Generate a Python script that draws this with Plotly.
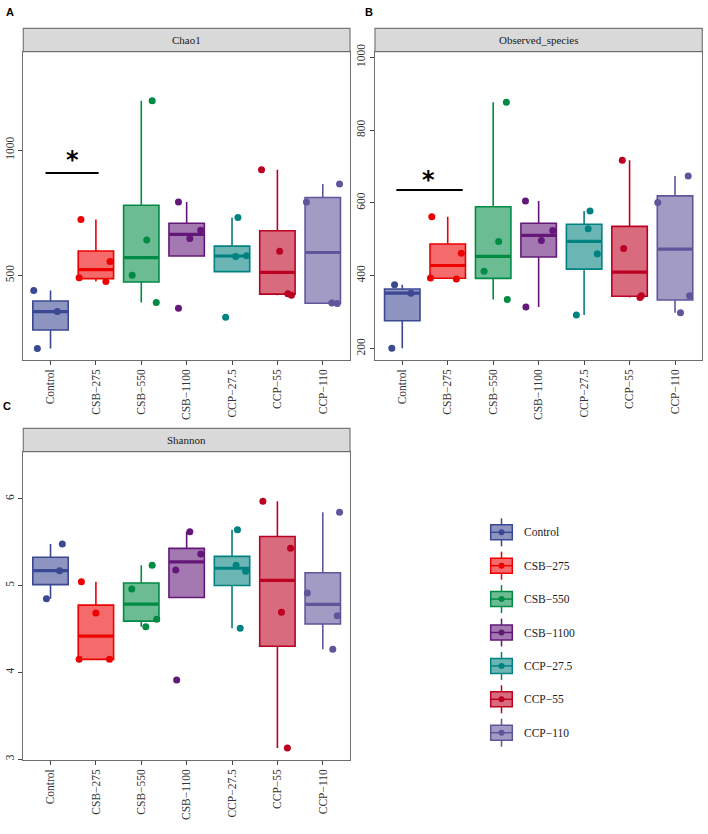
import numpy as np
import plotly.graph_objects as go

# DATA
groups = ["Control", "CSB\u2212275", "CSB\u2212550", "CSB\u22121100",
          "CCP\u221227.5", "CCP\u221255", "CCP\u2212110"]

chao1 = [[209, 356, 440], [476, 491, 556, 723], [392, 501, 641, 1196],
         [369, 647, 680, 793], [333, 576, 579, 731], [421, 427, 597, 921],
         [388, 390, 793, 865]]
observed = [[201, 352, 375], [391, 394, 462, 562], [335, 412, 494, 876],
            [314, 497, 524, 605], [292, 460, 529, 578], [340, 345, 475, 717],
            [298, 345, 601, 674]]
shannon = [[4.85, 5.173, 5.481], [4.15, 4.15, 4.685, 5.046], [4.527, 4.612, 4.962, 5.235],
           [3.912, 5.181, 5.366, 5.623], [4.51, 5.166, 5.235, 5.646],
           [3.128, 4.693, 5.431, 5.973], [4.266, 4.654, 4.916, 5.847]]

# horizontal jitter of each point (fraction of a category step)
chao1_jit = [[-0.29, 0.15, -0.37], [0.22, -0.37, 0.31, -0.33], [0.33, -0.20, 0.12, 0.24],
             [-0.18, 0.07, 0.31, -0.18], [-0.14, 0.08, 0.32, 0.13], [0.31, 0.23, 0.05, -0.35],
             [0.32, 0.20, -0.36, 0.37]]
observed_jit = [[-0.23, 0.19, -0.17], [0.19, -0.38, 0.30, -0.35], [0.31, -0.20, 0.12, 0.29],
                [-0.28, 0.06, 0.31, -0.29], [-0.17, 0.29, 0.09, 0.13], [0.23, 0.26, -0.13, -0.16],
                [0.12, 0.32, -0.38, 0.29]]
shannon_jit = [[-0.09, 0.20, 0.26], [-0.37, 0.30, 0.0, -0.32], [0.10, 0.34, -0.21, 0.24],
               [-0.22, -0.24, 0.31, 0.07], [0.18, 0.30, 0.09, 0.12], [0.22, 0.09, 0.29, -0.32],
               [0.22, 0.32, -0.34, 0.37]]

colors = ["#3B4992", "#EE0000", "#008B45", "#631879", "#008280", "#BB0021", "#5F559B"]

W, H = 708, 834
SERIF = "Liberation Serif, Times New Roman, serif"
BOXW = 0.78


def fx(p):
    return p / W


def fy(p):
    return 1 - p / H


def rgba(hexc, a):
    h = hexc.lstrip("#")
    return f"rgba({int(h[0:2],16)},{int(h[2:4],16)},{int(h[4:6],16)},{a})"


def box_stats(v):
    # ggplot-style: type 7 quantiles, whiskers to last point within 1.5 IQR
    v = np.array(v, dtype=float)
    q1, med, q3 = np.percentile(v, [25, 50, 75])
    iqr = q3 - q1
    lo = v[v >= q1 - 1.5 * iqr].min()
    hi = v[v <= q3 + 1.5 * iqr].max()
    return q1, med, q3, min(lo, q1), max(hi, q3)


fig = go.Figure()


def add_panel(values, jitter, n):
    xa = "x" if n == 1 else f"x{n}"
    ya = "y" if n == 1 else f"y{n}"
    for i, (vals, jit) in enumerate(zip(values, jitter)):
        q1, med, q3, lo, hi = box_stats(vals)
        c = colors[i]
        fig.add_trace(go.Box(x=[i], q1=[q1], median=[med], q3=[q3],
                             lowerfence=[lo], upperfence=[hi],
                             width=BOXW, whiskerwidth=0, boxpoints=False,
                             fillcolor=rgba(c, 0.58), line=dict(color=c, width=1.6),
                             xaxis=xa, yaxis=ya, showlegend=False, hoverinfo="skip"))
        # thicker median bar
        fig.add_trace(go.Scatter(x=[i - BOXW / 2 + 0.01, i + BOXW / 2 - 0.01], y=[med, med],
                                 mode="lines", line=dict(color=c, width=3.2),
                                 xaxis=xa, yaxis=ya, showlegend=False, hoverinfo="skip"))
        fig.add_trace(go.Scatter(x=[i + j for j in jit], y=vals, mode="markers",
                                 marker=dict(color=c, size=7),
                                 xaxis=xa, yaxis=ya, showlegend=False))


add_panel(chao1, chao1_jit, 1)
add_panel(observed, observed_jit, 2)
add_panel(shannon, shannon_jit, 3)

axis_common = dict(showline=True, mirror=True, linecolor="#6E6E6E", linewidth=1.2,
                   ticks="outside", ticklen=4, tickcolor="#444", tickwidth=1,
                   showgrid=False, zeroline=False, automargin=False,
                   tickfont=dict(family=SERIF, size=11.5, color="#333"))

xdomA = [fx(23.3), fx(350)]
xdomB = [fx(375), fx(702.3)]
ydomTop = [fy(359.5), fy(51.7)]
ydomC = [fy(759.5), fy(451.7)]

for k, (xd, yd) in enumerate([(xdomA, ydomTop), (xdomB, ydomTop), (xdomA, ydomC)], start=1):
    sfx = "" if k == 1 else str(k)
    fig.layout[f"xaxis{sfx}"] = dict(axis_common, domain=xd, range=[-0.6, 6.6],
                                     tickvals=list(range(7)), ticktext=groups,
                                     tickangle=-90, anchor=f"y{sfx}")
    fig.layout[f"yaxis{sfx}"] = dict(axis_common, domain=yd, tickangle=-90,
                                     anchor=f"x{sfx}")

fig.layout.yaxis.update(range=[165, 1392], tickvals=[500, 1000])
fig.layout.yaxis2.update(range=[170, 1015], tickvals=[200, 400, 600, 800, 1000])
fig.layout.yaxis3.update(range=[2.995, 6.545], tickvals=[3, 4, 5, 6])

shapes = []
annotations = []

# facet strips
for title, (x0, x1), (y0, y1) in [("Chao1", (23.3, 350), (28.3, 51.7)),
                                  ("Observed_species", (375, 702.3), (28.3, 51.7)),
                                  ("Shannon", (23.3, 350), (428.3, 451.7))]:
    shapes.append(dict(type="rect", xref="paper", yref="paper",
                       x0=fx(x0), x1=fx(x1), y0=fy(y1), y1=fy(y0),
                       fillcolor="#D9D9D9", line=dict(color="#7A7A7A", width=1.2), layer="below"))
    annotations.append(dict(xref="paper", yref="paper", x=fx((x0 + x1) / 2), y=fy((y0 + y1) / 2),
                            text=title, showarrow=False, xanchor="center", yanchor="middle",
                            font=dict(family=SERIF, size=11, color="#1A1A1A")))

# panel letters
for lab, px, py in [("A", 10, 12), ("B", 368.5, 12), ("C", 7, 406)]:
    annotations.append(dict(xref="paper", yref="paper", x=fx(px), y=fy(py), text=f"<b>{lab}</b>",
                            showarrow=False, xanchor="center", yanchor="middle",
                            font=dict(family="Liberation Sans, Arial, sans-serif", size=11, color="#000")))

# significance marks (Control vs CSB-275)
sig = [("x", "y", -0.11, 1.06, 908, 0.48, 962),
       ("x2", "y2", -0.13, 1.33, 635, 0.57, 664)]
for xr, yr, x0, x1, yl, xs, ys in sig:
    shapes.append(dict(type="line", xref=xr, yref=yr, x0=x0, x1=x1, y0=yl, y1=yl,
                       line=dict(color="#000", width=2)))
    annotations.append(dict(xref=xr, yref=yr, x=xs, y=ys, text="<b>*</b>", showarrow=False,
                            xanchor="center", yanchor="middle",
                            font=dict(family="DejaVu Sans, Arial, sans-serif", size=24, color="#000")))

# legend (boxplot keys)
kx0, kx1 = 490.7, 512.3
kxc = (kx0 + kx1) / 2
for i, g in enumerate(groups):
    c = colors[i]
    cy = 532.3 + 33.4 * i
    shapes.append(dict(type="line", xref="paper", yref="paper", x0=fx(kxc), x1=fx(kxc),
                       y0=fy(cy - 14), y1=fy(cy + 14), line=dict(color=c, width=1.5)))
    shapes.append(dict(type="rect", xref="paper", yref="paper", x0=fx(kx0), x1=fx(kx1),
                       y0=fy(cy + 7.5), y1=fy(cy - 7.5), fillcolor="white",
                       line=dict(width=0)))
    shapes.append(dict(type="rect", xref="paper", yref="paper", x0=fx(kx0), x1=fx(kx1),
                       y0=fy(cy + 7.5), y1=fy(cy - 7.5), fillcolor=rgba(c, 0.58),
                       line=dict(color=c, width=1.5)))
    shapes.append(dict(type="line", xref="paper", yref="paper", x0=fx(kx0), x1=fx(kx1),
                       y0=fy(cy), y1=fy(cy), line=dict(color=c, width=1.5)))
    shapes.append(dict(type="circle", xref="paper", yref="paper", x0=fx(kxc - 3), x1=fx(kxc + 3),
                       y0=fy(cy + 3), y1=fy(cy - 3), fillcolor=c, line=dict(color=c, width=0)))
    annotations.append(dict(xref="paper", yref="paper", x=fx(522), y=fy(cy), text=g,
                            showarrow=False, xanchor="left", yanchor="middle",
                            font=dict(family=SERIF, size=11.5, color="#1A1A1A")))

fig.update_layout(template="none", width=W, height=H, margin=dict(l=0, r=0, t=0, b=0, pad=0),
                  paper_bgcolor="white", plot_bgcolor="white",
                  shapes=shapes, annotations=annotations, showlegend=False)

fig.write_html("out.html", config={"displayModeBar": False},
               post_script="document.body.style.margin='0';")
